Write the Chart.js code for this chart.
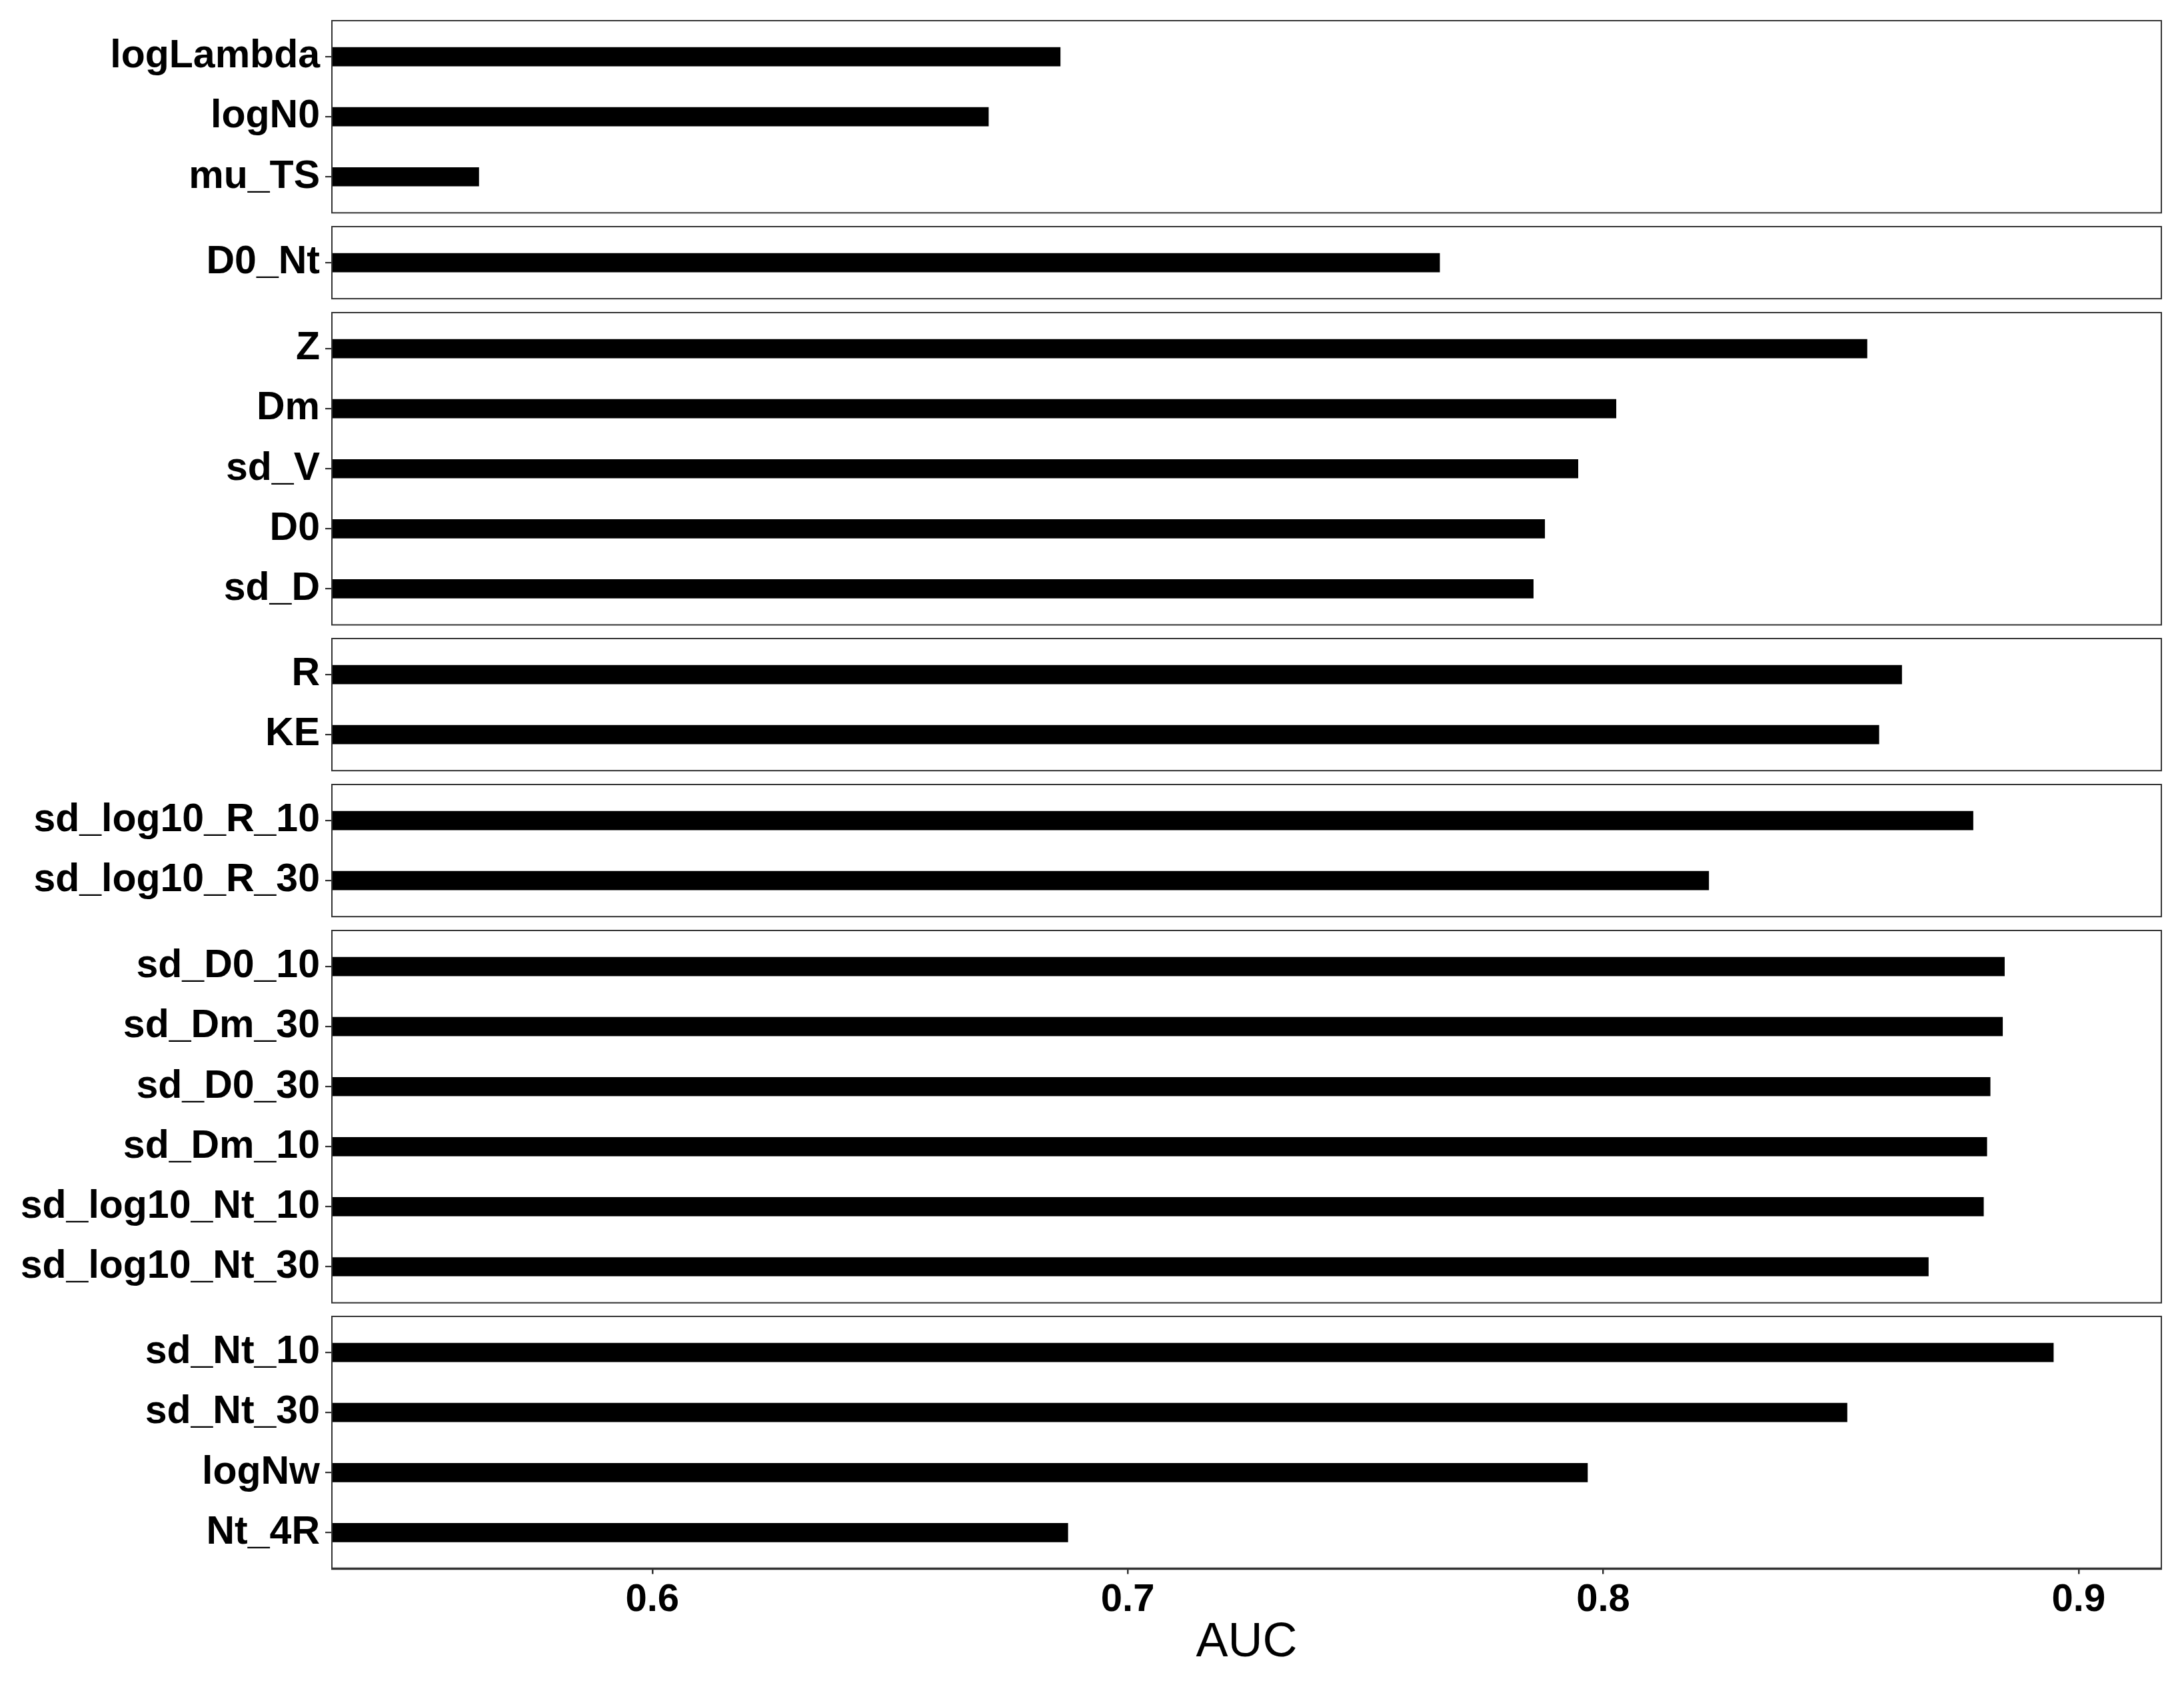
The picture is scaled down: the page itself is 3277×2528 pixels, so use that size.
<!DOCTYPE html>
<html>
<head>
<meta charset="utf-8">
<script src="https://cdn.jsdelivr.net/npm/chart.js@4.4.1/dist/chart.umd.min.js"></script>
<style>
html, body { margin: 0; padding: 0; background: #fff; }
#wrap { position: relative; width: 3277px; height: 2528px; overflow: hidden; }
#wrap canvas { position: absolute; left: 0; }
</style>
</head>
<body>
<div id="wrap"></div>
<script>
// data, panels from top to bottom
var categories = ["logLambda", "logN0", "mu_TS",
	"D0_Nt",
	"Z", "Dm", "sd_V", "D0", "sd_D",
	"R", "KE",
	"sd_log10_R_10", "sd_log10_R_30",
	"sd_D0_10", "sd_Dm_30", "sd_D0_30", "sd_Dm_10", "sd_log10_Nt_10", "sd_log10_Nt_30",
	"sd_Nt_10", "sd_Nt_30", "logNw", "Nt_4R"];
var auc = [0.6858, 0.6707, 0.5635,
	0.7656,
	0.8555, 0.8027, 0.7947, 0.7877, 0.7853,
	0.8628, 0.8580,
	0.8778, 0.8222,
	0.8844, 0.8840, 0.8814, 0.8807, 0.8800, 0.8684,
	0.8947, 0.8513, 0.7967, 0.6874];
var panelSizes = [3, 1, 5, 2, 2, 6, 4];
var xTicks = [0.6, 0.7, 0.8, 0.9];
var xTitle = "AUC";

var xMin = 0.5326, xMax = 0.9174;
var W = 3277, H = 2528;
var plotLeft = 498, plotRight = 3243;
var plotTop = 31, plotBottom = 2353.5;
var gap = 20.7;			// space between panels
var lineColor = "#333333";
var fontFamily = "'Liberation Sans', Arial, sans-serif";

var boxPlugin = {
	id: 'panelBox',
	afterDraw: function(chart, args, opts){
		var a = chart.chartArea;
		var ctx = chart.ctx;
		ctx.save();
		ctx.strokeStyle = lineColor;
		ctx.lineWidth = 2;
		ctx.strokeRect(a.left, a.top, a.right - a.left, a.bottom - a.top);
		if(opts.axisLine){
			ctx.lineWidth = 3.5;
			ctx.beginPath();
			ctx.moveTo(a.left - 1, a.bottom);
			ctx.lineTo(a.right + 1, a.bottom);
			ctx.stroke();
		}
		ctx.restore();
	}
};

function noPadding(s){
	s.paddingTop = 0;
	s.paddingBottom = 0;
	s.paddingLeft = 0;
	s.paddingRight = 0;
}

function drawPanel(start, n, panelTop, h, isLast){
	var names = categories.slice(start, start + n);
	var points = [];
	for(var i = 0; i < n; i++){
		points.push({x: auc[start + i], y: i});
	}

	var canvas = document.createElement("canvas");
	var ctop = panelTop - 4;
	var ch = isLast ? H - ctop : h + 8;
	canvas.width = W;
	canvas.height = Math.round(ch);
	canvas.style.top = ctop + "px";
	canvas.style.width = W + "px";
	canvas.style.height = Math.round(ch) + "px";
	document.getElementById("wrap").appendChild(canvas);

	var config = {
		type: 'bar',
		data: {
			datasets: [{
				data: points,
				backgroundColor: "#000000",
				borderWidth: 0,
				barThickness: 28
			}]
		},
		options: {
			indexAxis: 'y',
			responsive: false,
			animation: false,
			events: [],
			layout: {padding: {left: 0, right: W - plotRight, top: 4, bottom: isLast ? 0 : Math.round(ch) - h - 4}},
			plugins: {
				legend: {display: false},
				tooltip: {enabled: false},
				panelBox: {axisLine: isLast}
			},
			scales: {
				x: {
					type: 'linear',
					display: isLast,
					min: xMin,
					max: xMax,
					afterBuildTicks: function(s){
						s.ticks = xTicks.map(function(v){ return {value: v}; });
					},
					afterFit: function(s){
						noPadding(s);
						if(isLast){ s.height = H - plotBottom; }
					},
					grid: {drawOnChartArea: false, drawTicks: true, tickLength: 8, color: lineColor, lineWidth: 2.5},
					border: {display: false},
					ticks: {
						autoSkip: false,
						padding: 5,
						color: "#000000",
						font: {family: fontFamily, size: 58, weight: 'bold'},
						callback: function(v){ return v.toFixed(1); }
					},
					title: {
						display: true,
						text: xTitle,
						color: "#000000",
						font: {family: fontFamily, size: 72, weight: 'normal', lineHeight: 1},
						padding: {top: 0, bottom: 27}
					}
				},
				y: {
					type: 'linear',
					reverse: true,
					offset: false,
					min: -0.6,
					max: n - 0.4,
					afterBuildTicks: function(s){
						s.ticks = names.map(function(nm, i){ return {value: i}; });
					},
					afterFit: function(s){
						noPadding(s);
						s.width = plotLeft;
					},
					grid: {offset: false, drawOnChartArea: false, drawTicks: true, tickLength: 10, color: lineColor, lineWidth: 2.2},
					border: {display: false},
					ticks: {
						autoSkip: false,
						padding: 8,
						color: "#000000",
						font: {family: fontFamily, size: 59, weight: 'bold'},
						callback: function(v, i){ return names[i]; }
					}
				}
			}
		},
		plugins: [boxPlugin]
	};
	new Chart(canvas.getContext("2d"), config);
}

function drawAll(){
	var total = 0;
	for(var k = 0; k < panelSizes.length; k++){ total += panelSizes[k] + 0.2; }
	var unit = (plotBottom - plotTop - gap * (panelSizes.length - 1)) / total;

	var y0 = plotTop;
	var start = 0;
	for(var k = 0; k < panelSizes.length; k++){
		var h = (panelSizes[k] + 0.2) * unit;
		drawPanel(start, panelSizes[k], y0, h, k == panelSizes.length - 1);
		start += panelSizes[k];
		y0 += h + gap;
	}
}
drawAll();
</script>
</body>
</html>
